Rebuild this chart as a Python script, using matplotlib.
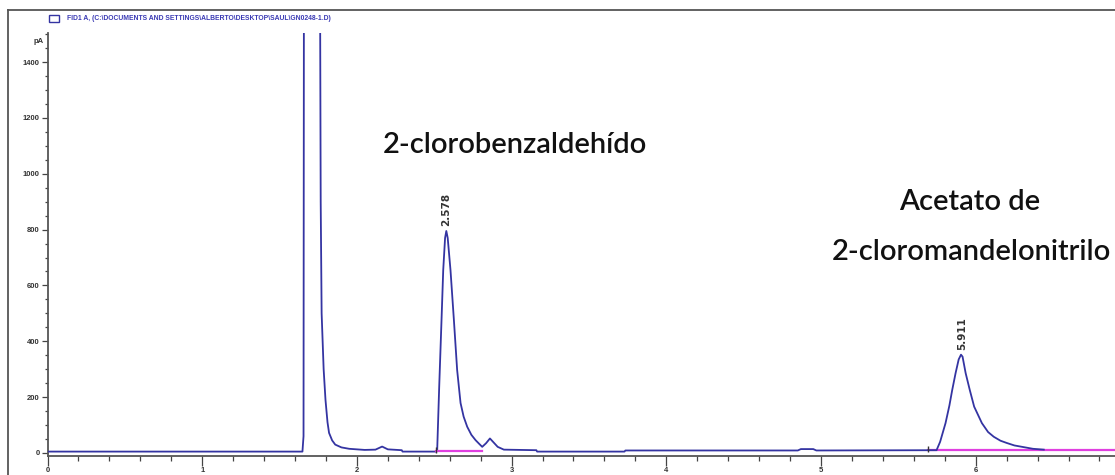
import matplotlib
matplotlib.use('Agg')
import matplotlib.pyplot as plt
from matplotlib.lines import Line2D
from matplotlib.patches import Rectangle
from matplotlib.ticker import MultipleLocator

# chromatogram trace (min, pA)
time_min = [0.00, 1.648, 1.655, 1.658, 1.712, 1.760, 1.766, 1.772, 1.785, 1.797,
            1.810, 1.820, 1.840, 1.860, 1.900, 1.950, 2.050, 2.120, 2.163, 2.200,
            2.290, 2.295, 2.515, 2.519, 2.532, 2.547, 2.558, 2.570, 2.578, 2.587,
            2.605, 2.627, 2.648, 2.670, 2.690, 2.713, 2.740, 2.767, 2.790, 2.810,
            2.835, 2.860, 2.880, 2.910, 2.950, 3.160, 3.165, 3.730, 3.735, 4.850,
            4.870, 4.950, 4.970, 5.747, 5.770, 5.805, 5.830, 5.848, 5.870, 5.890,
            5.905, 5.915, 5.935, 5.962, 5.990, 6.040, 6.080, 6.117, 6.160, 6.200,
            6.250, 6.310, 6.370, 6.440]
signal_pa = [5, 5, 60, 2000, 2600, 2000, 900, 500, 300, 190,
             110, 72, 45, 30, 20, 15, 11, 12, 23, 13,
             10, 5, 5, 10, 237, 476, 655, 770, 795, 770,
             655, 476, 297, 179, 130, 94, 65, 46, 33, 22,
             35, 52, 40, 22, 12, 10, 5, 5, 9, 9,
             14, 14, 9, 10, 40, 107, 170, 225, 286, 335,
             352, 345, 286, 225, 166, 107, 75, 58, 44, 36,
             27, 21, 15, 12]

# integration baselines (pink)
base1_t = [2.51, 2.81]
base1_y = [6, 6]
base2_t = [5.69, 6.95]
base2_y = [9, 9]

peak_rt = [2.578, 5.911]
peak_top = [795, 352]
peak_lbl = ['2.578', '5.911']

xticks = [0, 1, 2, 3, 4, 5, 6]
yticks = [0, 200, 400, 600, 800, 1000, 1200, 1400]

W, H = 1115, 475
small = ['Liberation Sans', 'DejaVu Sans']


def fx(px):
    return px / W


def fy(py):
    return 1 - py / H


def main():
    fig = plt.figure(figsize=(W / 100, H / 100), dpi=100)
    ax = fig.add_axes([fx(47.5), fy(455.5), fx(W - 47.5), (455.5 - 33) / H])

    ax.plot(time_min, signal_pa, color='#3434a2', lw=1.3, zorder=3)
    ax.plot(base1_t, base1_y, color='#e040e0', lw=1.6, zorder=4)
    ax.plot(base2_t, base2_y, color='#e040e0', lw=1.6, zorder=2)
    ax.plot([base1_t[0], base2_t[0]], [base1_y[0] + 4, base2_y[0] + 4], ls='none',
            marker='|', ms=4, color='#333333', zorder=5)

    for rt, top, lbl in zip(peak_rt, peak_top, peak_lbl):
        ax.text(rt, top + 18, lbl, rotation=90, ha='center', va='bottom',
                fontsize=7.5, fontweight='bold', color='#333333',
                family='DejaVu Sans')

    ax.set_xlim(0, (W - 47.5) / 154.7)
    ax.set_ylim(-9, 1504)
    ax.set_xticks(xticks)
    ax.set_yticks(yticks)
    ax.xaxis.set_minor_locator(MultipleLocator(0.2))
    ax.yaxis.set_minor_locator(MultipleLocator(50))
    for s in ['top', 'right']:
        ax.spines[s].set_visible(False)
    for s in ['left', 'bottom']:
        ax.spines[s].set_color('#555555')
        ax.spines[s].set_linewidth(1.3)
    ax.tick_params(axis='both', which='both', direction='out', colors='#444444',
                   labelcolor='#333333', labelsize=5.5, width=0.9)
    ax.tick_params(axis='y', which='major', length=4, pad=1.5)
    ax.tick_params(axis='y', which='minor', length=2.5)
    ax.tick_params(axis='x', which='major', length=7, pad=1)
    ax.tick_params(axis='x', which='minor', length=3.5)
    for t in ax.get_xticklabels() + ax.get_yticklabels():
        t.set_family(small)
        t.set_fontweight('bold')
    ax.text(-0.025, 1475, 'pA', ha='right', va='center', fontsize=5.5,
            fontweight='bold', color='#333333', family=small)

    # outer frame of the screenshot
    fig.add_artist(Line2D([fx(8), fx(8)], [fy(10), 0], color='#555555', lw=1.3))
    fig.add_artist(Line2D([fx(8), 1], [fy(10), fy(10)], color='#555555', lw=1.3))

    # signal legend
    fig.add_artist(Rectangle((fx(48.5), fy(22)), fx(10.5), 7 / H, fill=False,
                             edgecolor='#3434a2', lw=1.0))
    fig.text(fx(67), fy(18.5), r'FID1 A, (C:\DOCUMENTS AND SETTINGS\ALBERTO\DESKTOP\SAUL\GN0248-1.D)',
             ha='left', va='center', fontsize=4.85, fontweight='bold', color='#3a3ab4',
             family=small)

    big = dict(ha='center', va='baseline', fontsize=21, fontweight='semibold',
               color='#111111', family=['Lato', 'Liberation Sans'])
    fig.text(fx(515), fy(153), '2-clorobenzaldehído', **big)
    fig.text(fx(970), fy(210), 'Acetato de', **big)
    fig.text(fx(971), fy(260), '2-cloromandelonitrilo', **big)

    fig.savefig('out.png', dpi=100)


if __name__ == "__main__":
    main()
